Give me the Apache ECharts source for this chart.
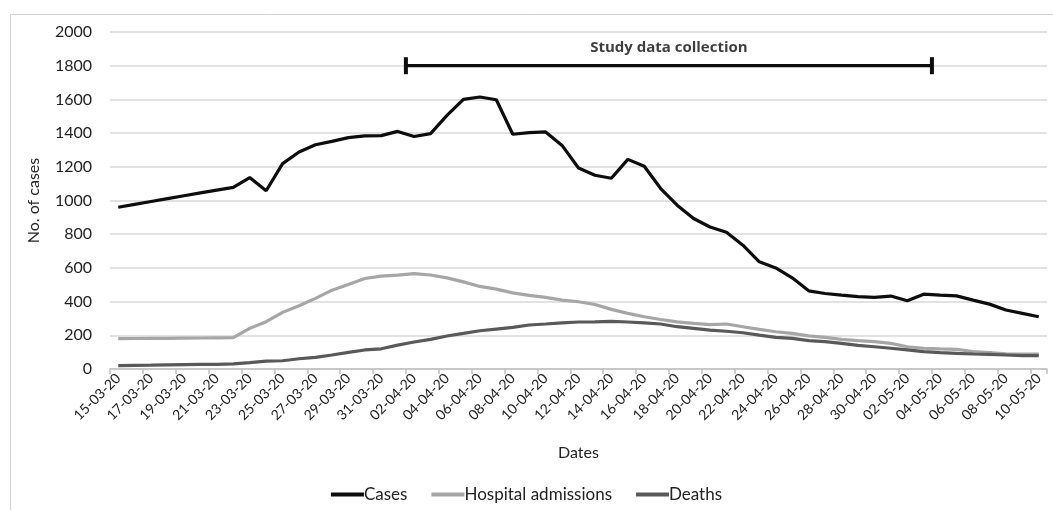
<!DOCTYPE html>
<html>
<head>
<meta charset="utf-8">
<script src="https://cdn.jsdelivr.net/npm/echarts@6/dist/echarts.min.js"></script>
<style>
  html, body { margin: 0; padding: 0; background: #fff; }
  #chart { width: 1053px; height: 510px; }
</style>
</head>
<body>
<div id="chart"></div>
<script>
// 日期 15-03-20 .. 10-05-20
const dates = [
  '15-03-20','16-03-20','17-03-20','18-03-20','19-03-20','20-03-20','21-03-20','22-03-20',
  '23-03-20','24-03-20','25-03-20','26-03-20','27-03-20','28-03-20','29-03-20','30-03-20','31-03-20',
  '01-04-20','02-04-20','03-04-20','04-04-20','05-04-20','06-04-20','07-04-20','08-04-20','09-04-20',
  '10-04-20','11-04-20','12-04-20','13-04-20','14-04-20','15-04-20','16-04-20','17-04-20','18-04-20',
  '19-04-20','20-04-20','21-04-20','22-04-20','23-04-20','24-04-20','25-04-20','26-04-20','27-04-20',
  '28-04-20','29-04-20','30-04-20','01-05-20','02-05-20','03-05-20','04-05-20','05-05-20','06-05-20',
  '07-05-20','08-05-20','09-05-20','10-05-20'
];

const cases = [
  960, 977, 994, 1011, 1028, 1045, 1062, 1078, 1136, 1058, 1219, 1288, 1331, 1351, 1373, 1383, 1385,
  1410, 1380, 1397, 1505, 1600, 1614, 1598, 1393, 1403, 1407, 1327, 1193, 1150, 1132, 1244, 1203,
  1071, 972, 893, 843, 812, 735, 636, 600, 541, 464, 448, 438, 429, 425, 433, 405, 444, 438, 434,
  409, 385, 350, 330, 310
];

const hospital = [
  180, 181, 182, 182, 183, 184, 185, 186, 241, 281, 336, 375, 419, 468, 502, 537, 551, 557,
  566, 558, 541, 517, 490, 474, 452, 437, 425, 409, 399, 383, 354, 330, 310, 294, 280, 271,
  263, 267, 251, 235, 221, 211, 197, 188, 176, 168, 162, 152, 132, 123, 119, 117, 103, 97,
  90, 89, 89
];

const deaths = [
  20, 22, 23, 25, 26, 27, 28, 30, 38, 47, 49, 61, 69, 83, 99, 113, 120, 142, 160, 176, 196,
  211, 227, 237, 247, 261, 267, 274, 279, 280, 283, 279, 274, 267, 251, 241, 231, 224, 215,
  201, 188, 182, 168, 162, 152, 140, 132, 123, 113, 103, 97, 93, 89, 87, 83, 79, 79
];

// 研究数据收集区间（类目边界序号）
const studyStart = 18;
const studyEnd = 50;
const studyLevel = 1800;
const studyLabel = 'Study data collection';

const yTicks = { min: 0, max: 2000, interval: 200 };

const chart = echarts.init(document.getElementById('chart'));
const font = 'Lato, "Open Sans", sans-serif';

const option = {
  animation: false,
  textStyle: { fontFamily: font },
  // 外框
  graphic: [
    {
      type: 'rect',
      left: 8,
      top: 12,
      shape: { width: 1100, height: 600 },
      style: { fill: 'none', stroke: '#d0d0d0', lineWidth: 1 },
      silent: true
    }
  ],
  grid: { left: 110, right: 6, top: 32, bottom: 141 },
  legend: {
    data: ['Cases', 'Hospital admissions', 'Deaths'],
    top: 481,
    left: 'center',
    itemWidth: 33,
    itemHeight: 4,
    itemGap: 24,
    icon: 'rect',
    textStyle: { fontSize: 17, color: '#222', fontFamily: font, padding: [0, 0, 0, -5] }
  },
  xAxis: [
    {
      type: 'category',
      data: dates,
      boundaryGap: true,
      name: 'Dates',
      nameLocation: 'middle',
      nameGap: 76,
      nameTextStyle: { fontSize: 16, color: '#222', fontFamily: font },
      axisLine: { lineStyle: { color: '#bfbfbf', width: 1.5 } },
      axisTick: { show: true, interval: 1, length: 5, lineStyle: { color: '#bfbfbf', width: 1.5 } },
      axisLabel: { interval: 1, rotate: 45, fontSize: 14, color: '#222', margin: 7, fontFamily: font }
    },
    {
      // 隐藏数值轴，用于绘制研究区间
      type: 'value',
      min: 0,
      max: dates.length,
      show: false
    }
  ],
  yAxis: {
    type: 'value',
    min: yTicks.min,
    max: yTicks.max,
    interval: yTicks.interval,
    name: 'No. of cases',
    nameLocation: 'middle',
    nameGap: 68,
    nameTextStyle: { fontSize: 16, color: '#222', fontFamily: font },
    axisLine: { show: false },
    axisTick: { show: false },
    axisLabel: {
      fontSize: 16,
      color: '#222',
      margin: 18,
      fontFamily: font,
      formatter: v => String(v)
    },
    splitLine: { lineStyle: { color: '#d9d9d9', width: 1.5 } }
  },
  series: [
    {
      name: 'Cases',
      type: 'line',
      data: cases,
      symbol: 'none',
      lineStyle: { color: '#0d0d0d', width: 3.2 },
      itemStyle: { color: '#0d0d0d' }
    },
    {
      name: 'Hospital admissions',
      type: 'line',
      data: hospital,
      symbol: 'none',
      lineStyle: { color: '#a6a6a6', width: 3.2 },
      itemStyle: { color: '#a6a6a6' }
    },
    {
      name: 'Deaths',
      type: 'line',
      data: deaths,
      symbol: 'none',
      lineStyle: { color: '#595959', width: 3.2 },
      itemStyle: { color: '#595959' }
    },
    {
      // 研究区间横线
      name: 'study',
      type: 'line',
      xAxisIndex: 1,
      data: [[studyStart, studyLevel], [studyEnd, studyLevel]],
      symbol: 'rect',
      symbolSize: [4, 17],
      lineStyle: { color: '#0d0d0d', width: 3.2 },
      itemStyle: { color: '#0d0d0d' },
      silent: true
    },
    {
      // 区间标题
      name: 'studyLabel',
      type: 'scatter',
      xAxisIndex: 1,
      data: [[(studyStart + studyEnd) / 2, studyLevel]],
      symbolSize: 0,
      label: {
        show: true,
        position: 'top',
        distance: 10,
        formatter: studyLabel,
        fontSize: 15,
        fontWeight: 'bold',
        color: '#0d0d0d',
        fontFamily: '"Open Sans", "DejaVu Sans", sans-serif'
      },
      silent: true
    }
  ]
};

chart.setOption(option);
</script>
</body>
</html>
